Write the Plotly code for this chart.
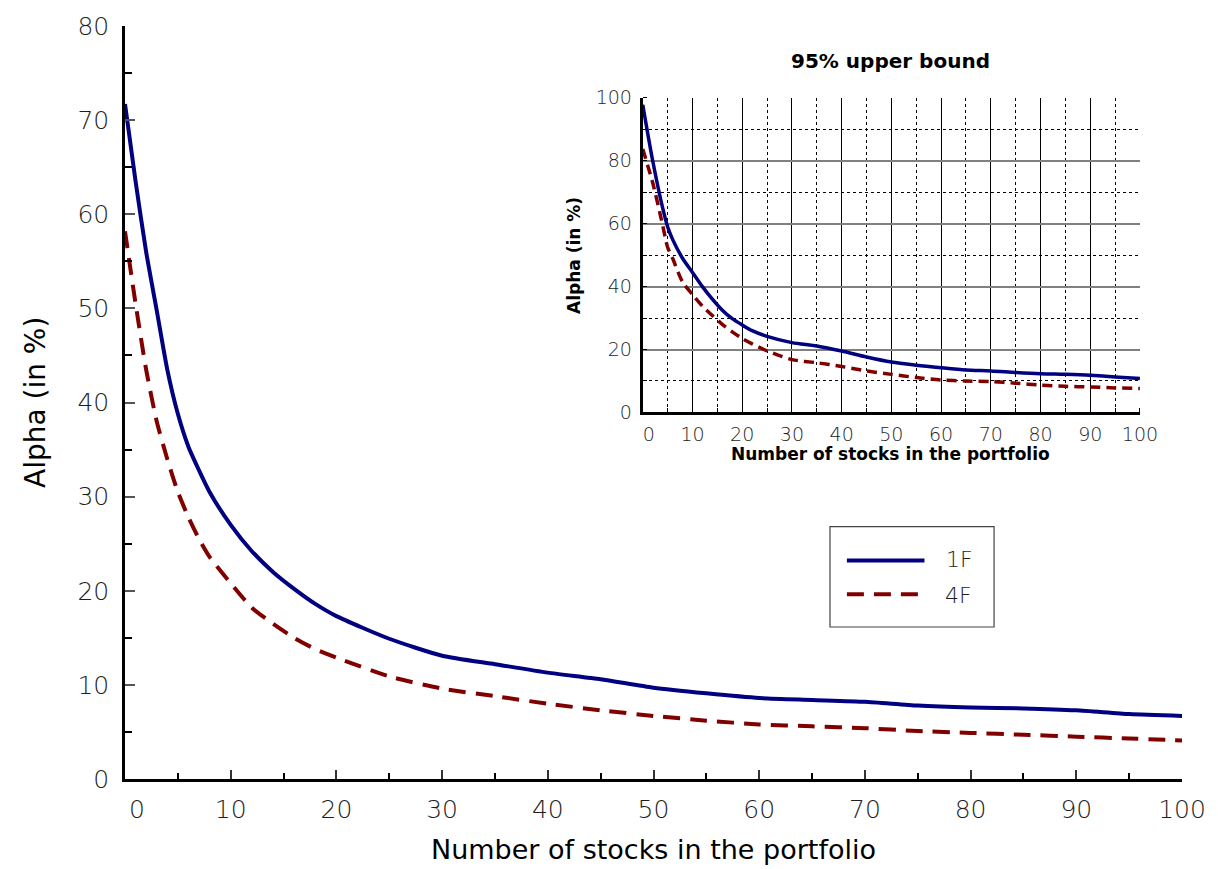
import plotly.graph_objects as go

# Main panel: average alpha vs. portfolio size
stocks_main = [0, 1, 2, 3, 4, 5, 6, 7, 8, 10, 12, 14, 16, 18, 20, 25, 30, 35, 40,
               45, 50, 55, 60, 65, 70, 75, 80, 85, 90, 95, 100]
alpha_1f = [71.7, 63.5, 56.0, 49.8, 43.5, 38.8, 35.3, 32.8, 30.5, 27.0, 24.2, 22.0,
            20.2, 18.6, 17.3, 14.9, 13.1, 12.2, 11.3, 10.6, 9.7, 9.1, 8.6, 8.4, 8.2,
            7.8, 7.6, 7.5, 7.3, 6.9, 6.7]
alpha_4f = [58.2, 50.5, 43.5, 38.0, 34.0, 30.5, 27.8, 25.5, 23.6, 20.8, 18.2, 16.5,
            15.0, 13.8, 12.9, 10.9, 9.6, 8.8, 8.0, 7.3, 6.7, 6.2, 5.8, 5.6, 5.4,
            5.1, 4.9, 4.7, 4.5, 4.3, 4.1]

# Inset: 95% upper bound
stocks_inset = [0, 2, 4, 5, 6, 8, 10, 12, 14, 16, 18, 20, 22, 25, 30, 35, 40, 45, 50,
                55, 60, 65, 70, 75, 80, 85, 90, 95, 100]
upper_1f = [97.8, 80.0, 65.0, 59.0, 55.0, 49.0, 44.5, 40.0, 36.0, 32.5, 29.8, 27.8,
            26.0, 24.2, 22.2, 21.1, 19.5, 17.6, 16.0, 15.0, 14.2, 13.5, 13.2, 12.7,
            12.3, 12.1, 11.8, 11.3, 10.8]
upper_4f = [83.7, 73.0, 59.5, 52.5, 49.0, 41.5, 37.5, 33.8, 30.8, 28.0, 25.6, 23.5,
            21.8, 19.6, 16.8, 15.8, 14.6, 13.2, 12.1, 11.1, 10.3, 10.0, 9.8, 9.3,
            8.7, 8.3, 8.1, 7.8, 7.6]

main_xticks = [0, 10, 20, 30, 40, 50, 60, 70, 80, 90, 100]
main_xlabels = ["\u00a0\u00a0\u00a00", "10", "20", "30", "40", "50", "60", "70", "80", "90", "100"]
main_yticks = [0, 10, 20, 30, 40, 50, 60, 70, 80]
inset_xticks = [0, 10, 20, 30, 40, 50, 60, 70, 80, 90, 100]
inset_xlabels = ["\u00a0\u00a00", "10", "20", "30", "40", "50", "60", "70", "80", "90", "100"]
inset_yticks = [0, 20, 40, 60, 80, 100]

BLUE = "#000080"
RED = "#800000"
TXT = "#1e1e1e"
LIGHT = dict(family="DejaVu Sans", size=25, color=TXT, weight=200)
LIGHT_SM = dict(family="DejaVu Sans", size=19, color=TXT, weight=200)

W, H = 1218, 869
ML, MR, MT, MB = 125, 30, 21, 90
PW, PH = W - ML - MR, H - MT - MB


def px(x):
    return (x - ML) / PW


def py(y):
    return (H - MB - y) / PH


fig = go.Figure()

fig.add_trace(go.Scatter(x=stocks_main, y=alpha_1f, mode="lines", name="1F",
                         line=dict(color=BLUE, width=4, shape="spline", smoothing=0.6),
                         xaxis="x", yaxis="y", showlegend=False))
fig.add_trace(go.Scatter(x=stocks_main, y=alpha_4f, mode="lines", name="4F",
                         line=dict(color=RED, width=4, dash="17px,10px", shape="spline", smoothing=0.6),
                         xaxis="x", yaxis="y", showlegend=False))
fig.add_trace(go.Scatter(x=stocks_inset, y=upper_1f, mode="lines", name="1F",
                         line=dict(color=BLUE, width=3.5, shape="spline", smoothing=0.8),
                         xaxis="x2", yaxis="y2", showlegend=False))
fig.add_trace(go.Scatter(x=stocks_inset, y=upper_4f, mode="lines", name="4F",
                         line=dict(color=RED, width=3.5, dash="10px,6px", shape="spline", smoothing=0.8),
                         xaxis="x2", yaxis="y2", showlegend=False))

ix0, ix1 = px(645.7), px(1145.7)
iy0, iy1 = py(410), py(93.3)

fig.update_layout(
    width=W, height=H,
    margin=dict(l=ML, r=MR, t=MT, b=MB),
    paper_bgcolor="white", plot_bgcolor="white",
    showlegend=False,
    xaxis=dict(domain=[0, 1], range=[0, 100], showgrid=False, zeroline=False,
               showline=True, linecolor="black", linewidth=2.5,
               tickvals=main_xticks, ticktext=main_xlabels, ticks="inside", ticklen=9,
               tickcolor="#333", tickwidth=1.5, tickfont=LIGHT, ticklabelstandoff=6,
               minor=dict(dtick=5, ticks="inside", ticklen=6, tickcolor="black", tickwidth=1.5)),
    yaxis=dict(domain=[0, 1], range=[0, 80], showgrid=False, zeroline=False,
               showline=True, linecolor="black", linewidth=2.5,
               tickvals=main_yticks, ticks="inside", ticklen=10,
               tickcolor="#555", tickwidth=1.5, tickfont=LIGHT, ticklabelstandoff=8,
               minor=dict(dtick=5, ticks="inside", ticklen=7, tickcolor="black", tickwidth=1.5)),
    xaxis2=dict(domain=[ix0, ix1], anchor="y2", range=[0, 100], zeroline=False,
                showline=True, linecolor="black", linewidth=3,
                showgrid=True, gridcolor="black", gridwidth=1,
                tickvals=inset_xticks, ticktext=inset_xlabels, ticks="",
                tickfont=LIGHT_SM, ticklabelstandoff=3,
                minor=dict(dtick=5, showgrid=True, griddash="dot", gridcolor="black",
                           gridwidth=1, ticks="inside", ticklen=4, tickcolor="black")),
    yaxis2=dict(domain=[iy0, iy1], anchor="x2", range=[0, 100], zeroline=False,
                showline=True, linecolor="black", linewidth=3,
                showgrid=True, gridcolor="#808080", gridwidth=2,
                tickvals=inset_yticks, ticks="",
                tickfont=LIGHT_SM, ticklabelstandoff=4,
                minor=dict(dtick=10, showgrid=True, griddash="dot", gridcolor="black",
                           gridwidth=1, ticks="inside", ticklen=4, tickcolor="black")),
)

annotations = [
    dict(text="Number of stocks in the portfolio", x=px(657), y=py(850),
         font=dict(family="DejaVu Sans", size=27, color="black")),
    dict(text="Alpha (in %)", x=px(35), y=py(400), textangle=-90,
         font=dict(family="DejaVu Sans", size=28, color="black")),
    dict(text="<b>95% upper bound</b>", x=px(895), y=py(56),
         font=dict(family="DejaVu Sans", size=20, color="black")),
    dict(text="<b>Number of stocks in the portfolio</b>", x=px(895), y=py(452),
         font=dict(family="DejaVu Sans", size=17, color="black")),
    dict(text="<b>Alpha (in %)</b>", x=px(577), y=py(252), textangle=-90,
         font=dict(family="DejaVu Sans", size=17, color="black")),
    dict(text="1F", x=px(949), y=py(558), xanchor="left",
         font=dict(family="DejaVu Sans", size=22, color=TXT, weight=200)),
    dict(text="4F", x=px(948), y=py(594), xanchor="left",
         font=dict(family="DejaVu Sans", size=22, color=TXT, weight=200)),
]
for a in annotations:
    a.setdefault("xanchor", "center")
    fig.add_annotation(xref="paper", yref="paper", yanchor="middle", showarrow=False, **a)

# Legend box and line samples
fig.add_shape(type="rect", xref="paper", yref="paper",
              x0=px(834), x1=px(999), y0=py(626), y1=py(525),
              line=dict(color="#444444", width=1.2), fillcolor="white", layer="below")
fig.add_shape(type="line", xref="paper", yref="paper",
              x0=px(851), x1=px(929), y0=py(559), y1=py(559),
              line=dict(color=BLUE, width=4))
fig.add_shape(type="line", xref="paper", yref="paper",
              x0=px(851), x1=px(928), y0=py(593), y1=py(593),
              line=dict(color=RED, width=4, dash="17px,10px"))

fig.write_html("out.html")
